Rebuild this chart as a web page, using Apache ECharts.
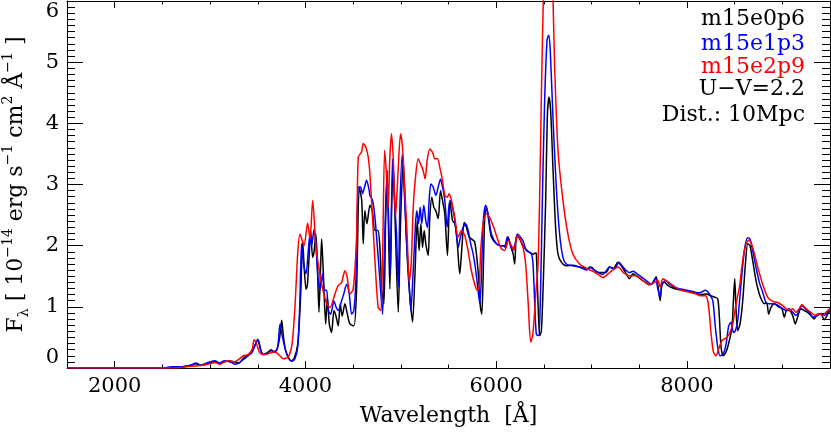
<!DOCTYPE html>
<html>
<head>
<meta charset="utf-8">
<script src="https://cdn.jsdelivr.net/npm/echarts@6/dist/echarts.min.js"></script>
<style>
  html, body { margin: 0; padding: 0; background: #fff; }
  /* chart box must have a size */
  #chart { width: 831px; height: 435px; }
</style>
</head>
<body>
<div id="chart"></div>
<script>
// wavelength [A] and flux [1e-14 erg/s/cm2/A]
var waveBlack = [1500, 2500, 2600, 2700, 2800, 2850, 2900, 2950, 3000, 3050, 3100, 3150, 3200, 3250, 3300, 3350, 3400, 3440, 3480, 3500, 3530, 3560, 3600, 3640, 3665, 3700, 3730, 3751, 3770, 3790, 3820, 3850, 3880, 3920, 3950, 3971, 3985, 4006, 4020, 4040, 4055, 4075, 4090, 4110, 4125, 4142, 4160, 4170, 4185, 4212, 4230, 4250, 4274, 4299, 4320, 4344, 4365, 4385, 4414, 4440, 4466, 4508, 4536, 4564, 4590, 4606, 4623, 4645, 4676, 4700, 4728, 4760, 4781, 4800, 4823, 4840, 4857, 4870, 4885, 4903, 4920, 4941, 4973, 4997, 5025, 5046, 5067, 5095, 5123, 5147, 5172, 5192, 5210, 5228, 5245, 5262, 5287, 5304, 5325, 5346, 5367, 5392, 5416, 5437, 5461, 5489, 5514, 5542, 5566, 5590, 5618, 5643, 5664, 5688, 5716, 5740, 5775, 5810, 5835, 5849, 5863, 5880, 5898, 5922, 5950, 6002, 6044, 6072, 6100, 6124, 6150, 6177, 6194, 6212, 6229, 6280, 6320, 6351, 6390, 6410, 6421, 6438, 6456, 6473, 6491, 6519, 6536, 6553, 6571, 6595, 6623, 6648, 6683, 6735, 6805, 6875, 6962, 6997, 7030, 7067, 7110, 7154, 7189, 7230, 7276, 7320, 7360, 7398, 7433, 7468, 7538, 7607, 7640, 7677, 7698, 7719, 7737, 7764, 7800, 7835, 7887, 7956, 8026, 8096, 8148, 8201, 8253, 8288, 8323, 8340, 8358, 8382, 8410, 8445, 8473, 8487, 8501, 8515, 8532, 8557, 8585, 8613, 8637, 8661, 8689, 8724, 8759, 8787, 8811, 8836, 8857, 8881, 8916, 8961, 8996, 9021, 9045, 9073, 9108, 9136, 9160, 9195, 9230, 9265, 9300, 9335, 9370, 9405, 9440, 9475, 9500];
var fluxBlack = [0, 0, 0.01, 0.02, 0.04, 0.07, 0.04, 0.06, 0.09, 0.11, 0.07, 0.1, 0.12, 0.1, 0.08, 0.16, 0.22, 0.28, 0.4, 0.47, 0.3, 0.22, 0.25, 0.3, 0.27, 0.3, 0.5, 0.78, 0.5, 0.3, 0.17, 0.12, 0.15, 0.4, 1.2, 2.08, 1.7, 1.29, 1.35, 1.87, 2.25, 1.81, 1.9, 2.19, 1.7, 0.91, 1.7, 2.11, 1.65, 0.72, 1.16, 0.72, 0.58, 0.94, 0.85, 0.69, 1.05, 0.85, 1.05, 0.88, 0.72, 0.69, 1.27, 2.96, 2.74, 2.03, 2.57, 2.36, 2.66, 2.58, 2.25, 2.25, 1.97, 1.27, 1.05, 2.36, 3.23, 2.36, 1.29, 2.63, 3.34, 2.36, 0.91, 2.36, 3.39, 2.63, 1.81, 1.16, 0.75, 1.48, 2.41, 1.92, 2.36, 1.97, 2.25, 2.03, 1.84, 2.46, 2.79, 2.63, 2.57, 2.44, 2.9, 2.74, 2.52, 1.84, 2.74, 2.41, 2.36, 2.08, 1.54, 2.03, 2.38, 2.3, 2.14, 2.11, 2.06, 1.59, 0.99, 0.88, 1.48, 2.46, 2.63, 2.41, 2.14, 2.03, 2.0, 2.0, 1.97, 2.14, 2.0, 1.87, 1.7, 2.14, 2.14, 2.0, 1.93, 1.89, 1.86, 1.88, 1.87, 1.1, 0.53, 0.6, 1.26, 2.74, 4.1, 4.43, 4.21, 3.28, 2.3, 1.86, 1.73, 1.67, 1.68, 1.65, 1.62, 1.65, 1.6, 1.56, 1.56, 1.56, 1.65, 1.63, 1.73, 1.65, 1.55, 1.46, 1.54, 1.51, 1.43, 1.36, 1.38, 1.49, 1.32, 1.1, 1.37, 1.4, 1.35, 1.32, 1.29, 1.27, 1.25, 1.22, 1.2, 1.21, 1.18, 1.16, 1.13, 0.83, 0.34, 0.2, 0.26, 0.45, 0.67, 1.1, 1.46, 0.94, 0.61, 0.72, 1.1, 1.7, 2.03, 2.0, 1.76, 1.43, 1.21, 1.1, 1.05, 1.07, 0.88, 0.99, 1.05, 1.0, 0.97, 0.83, 0.94, 0.94, 0.86, 0.72, 0.83, 0.97, 0.94, 0.91, 0.86, 0.8, 0.88, 0.88, 0.79, 0.88, 0.94];

var waveBlue = [1500, 2500, 2600, 2700, 2800, 2850, 2900, 2950, 3000, 3050, 3100, 3150, 3227, 3260, 3300, 3350, 3400, 3440, 3484, 3507, 3530, 3560, 3600, 3640, 3680, 3710, 3733, 3760, 3790, 3820, 3856, 3890, 3920, 3940, 3960, 3985, 4006, 4030, 4048, 4065, 4090, 4110, 4131, 4152, 4180, 4198, 4222, 4240, 4264, 4299, 4320, 4344, 4379, 4400, 4432, 4459, 4484, 4508, 4530, 4554, 4578, 4599, 4620, 4641, 4669, 4676, 4704, 4728, 4763, 4788, 4809, 4826, 4843, 4857, 4875, 4892, 4913, 4938, 4955, 4973, 4990, 5015, 5036, 5060, 5084, 5105, 5130, 5154, 5168, 5186, 5203, 5220, 5241, 5262, 5280, 5297, 5315, 5339, 5367, 5392, 5416, 5437, 5461, 5486, 5507, 5524, 5549, 5577, 5601, 5625, 5653, 5681, 5706, 5733, 5758, 5786, 5810, 5828, 5845, 5863, 5890, 5915, 5950, 6002, 6055, 6090, 6117, 6142, 6170, 6198, 6222, 6250, 6281, 6316, 6368, 6386, 6403, 6421, 6445, 6463, 6484, 6508, 6533, 6550, 6567, 6595, 6630, 6665, 6700, 6735, 6805, 6875, 6945, 6979, 7030, 7119, 7189, 7240, 7286, 7330, 7398, 7433, 7485, 7555, 7625, 7670, 7695, 7719, 7740, 7775, 7817, 7887, 7974, 8061, 8131, 8194, 8236, 8271, 8298, 8323, 8347, 8382, 8410, 8438, 8463, 8487, 8508, 8532, 8567, 8602, 8637, 8661, 8689, 8724, 8759, 8794, 8829, 8864, 8916, 8961, 9003, 9038, 9073, 9108, 9143, 9178, 9206, 9241, 9283, 9324, 9370, 9405, 9440, 9475, 9500];
var fluxBlue = [0, 0, 0.02, 0.02, 0.05, 0.08, 0.05, 0.07, 0.1, 0.12, 0.08, 0.12, 0.09, 0.06, 0.08, 0.14, 0.2, 0.25, 0.42, 0.45, 0.3, 0.22, 0.24, 0.28, 0.26, 0.35, 0.72, 0.5, 0.3, 0.18, 0.11, 0.15, 0.35, 1.0, 2.03, 1.65, 1.54, 1.92, 2.19, 2.0, 2.27, 2.0, 1.48, 1.27, 1.54, 1.27, 1.27, 0.94, 0.88, 1.1, 1.0, 0.94, 1.1, 1.2, 1.37, 1.21, 0.88, 0.94, 1.48, 2.96, 2.96, 2.85, 2.96, 3.07, 2.9, 2.82, 2.74, 2.47, 1.81, 1.27, 0.88, 1.81, 2.74, 3.12, 2.25, 1.54, 3.42, 2.63, 2.19, 1.32, 2.63, 3.5, 2.9, 2.08, 1.48, 0.94, 1.59, 2.36, 2.57, 2.36, 2.63, 2.36, 2.66, 2.41, 2.3, 2.74, 3.01, 2.96, 2.82, 2.96, 3.09, 2.96, 2.74, 2.3, 2.68, 2.74, 2.57, 2.3, 1.97, 2.14, 2.3, 2.36, 2.25, 2.03, 1.87, 1.59, 1.27, 1.05, 1.48, 2.36, 2.66, 2.52, 2.19, 2.03, 2.0, 2.0, 2.14, 2.06, 1.92, 2.03, 2.19, 2.15, 2.08, 1.92, 1.87, 1.7, 1.1, 0.55, 0.53, 1.1, 2.74, 4.37, 5.36, 5.44, 5.19, 4.1, 2.96, 2.19, 1.81, 1.7, 1.67, 1.65, 1.6, 1.65, 1.6, 1.53, 1.65, 1.62, 1.73, 1.65, 1.56, 1.58, 1.53, 1.45, 1.37, 1.47, 1.29, 1.16, 1.37, 1.43, 1.37, 1.31, 1.28, 1.25, 1.23, 1.27, 1.21, 1.1, 0.67, 0.34, 0.2, 0.23, 0.39, 0.69, 0.75, 0.58, 0.61, 0.77, 1.37, 1.92, 2.13, 2.11, 1.92, 1.65, 1.4, 1.24, 1.07, 1.05, 1.05, 1.02, 0.97, 0.94, 0.97, 0.91, 0.86, 0.94, 1.02, 0.97, 0.91, 0.83, 0.86, 0.89, 0.86, 0.91, 0.97];

var waveRed = [1500, 2600, 2700, 2800, 2900, 3000, 3050, 3100, 3150, 3200, 3250, 3300, 3350, 3400, 3440, 3462, 3490, 3520, 3560, 3600, 3640, 3681, 3720, 3770, 3820, 3860, 3890, 3920, 3943, 3985, 4023, 4048, 4076, 4110, 4135, 4170, 4222, 4257, 4309, 4344, 4379, 4414, 4438, 4466, 4501, 4536, 4554, 4588, 4606, 4634, 4658, 4676, 4711, 4739, 4763, 4788, 4809, 4830, 4850, 4868, 4885, 4903, 4920, 4945, 4970, 4997, 5018, 5039, 5067, 5088, 5109, 5130, 5154, 5182, 5206, 5234, 5255, 5276, 5304, 5332, 5357, 5385, 5409, 5437, 5461, 5486, 5507, 5531, 5566, 5601, 5636, 5670, 5705, 5740, 5775, 5800, 5821, 5838, 5863, 5898, 5932, 5974, 6020, 6055, 6090, 6124, 6160, 6184, 6212, 6229, 6281, 6309, 6334, 6362, 6385, 6420, 6438, 6455, 6473, 6498, 6520, 6550, 6575, 6595, 6613, 6648, 6700, 6752, 6805, 6875, 6945, 7014, 7067, 7119, 7189, 7276, 7340, 7398, 7468, 7538, 7607, 7660, 7695, 7719, 7747, 7782, 7852, 7922, 8026, 8096, 8148, 8194, 8218, 8236, 8253, 8278, 8305, 8333, 8368, 8410, 8445, 8480, 8515, 8550, 8585, 8620, 8647, 8672, 8707, 8742, 8794, 8846, 8899, 8951, 9003, 9038, 9073, 9108, 9143, 9178, 9206, 9248, 9300, 9345, 9387, 9422, 9457, 9500];
var fluxRed = [0, 0, 0.01, 0.03, 0.04, 0.07, 0.09, 0.06, 0.1, 0.12, 0.1, 0.14, 0.2, 0.22, 0.3, 0.46, 0.38, 0.25, 0.22, 0.23, 0.25, 0.26, 0.22, 0.15, 0.18, 0.4, 1.0, 1.9, 2.19, 2.0, 2.37, 2.11, 2.74, 1.97, 1.7, 1.37, 1.05, 0.99, 1.21, 1.35, 1.4, 1.59, 1.48, 1.21, 1.29, 2.14, 3.45, 3.53, 3.67, 3.61, 3.45, 3.17, 2.25, 1.48, 0.99, 0.94, 1.81, 3.56, 3.17, 2.63, 3.45, 3.83, 3.45, 2.47, 3.17, 3.83, 3.61, 3.01, 2.14, 1.4, 1.7, 2.63, 3.12, 3.42, 3.34, 3.23, 3.09, 3.39, 3.58, 3.53, 3.42, 3.42, 3.28, 3.07, 2.82, 2.79, 2.85, 2.74, 2.46, 2.14, 2.25, 2.17, 1.92, 1.59, 1.37, 1.27, 1.32, 1.92, 2.36, 2.52, 2.46, 2.3, 2.08, 1.95, 1.92, 2.08, 2.0, 1.92, 2.11, 2.17, 1.97, 1.7, 1.1, 0.42, 0.56, 1.32, 1.65, 2.74, 4.37, 6.3, 7.2, 7.5, 7.0, 6.1, 4.92, 3.56, 2.74, 2.19, 1.86, 1.7, 1.63, 1.58, 1.53, 1.48, 1.56, 1.65, 1.55, 1.51, 1.51, 1.43, 1.36, 1.4, 1.43, 1.32, 1.46, 1.43, 1.35, 1.28, 1.24, 1.21, 1.18, 1.18, 1.1, 0.88, 0.56, 0.26, 0.2, 0.31, 0.45, 0.49, 0.56, 0.72, 1.05, 1.32, 1.76, 2.03, 2.09, 2.05, 1.87, 1.65, 1.37, 1.16, 1.09, 1.07, 1.02, 0.97, 0.94, 0.97, 0.91, 0.97, 1.04, 0.97, 0.91, 0.86, 0.89, 0.86, 0.91, 0.97];

var xMajorTicks = [2000, 4000, 6000, 8000];
var legendLines = ['m15e0p6', 'm15e1p3', 'm15e2p9', 'U\u2212V=2.2', 'Dist.: 10Mpc'];
var legendColors = ['#000000', '#0000ff', '#ff0000', '#000000', '#000000'];

function pairs(w, f) {
  var out = [];
  for (var i = 0; i < w.length; i++) out.push([w[i], f[i]]);
  return out;
}

var serif = '"DejaVu Serif", serif';
var chart = echarts.init(document.getElementById('chart'), null, { renderer: 'canvas' });

function xAxisDef(pos, major, labels) {
  return {
    type: 'value', position: pos, min: 1500, max: 9500, interval: 500,
    axisLine: { show: !major, onZero: false, lineStyle: { color: '#000', width: 1 } },
    axisTick: major
      ? { show: true, inside: true, length: 7, customValues: xMajorTicks, lineStyle: { color: '#000' } }
      : { show: true, inside: true, length: 3.5, lineStyle: { color: '#000' } },
    axisLabel: labels
      ? { show: true, color: '#000', fontSize: 21, fontFamily: serif, margin: 8,
          formatter: function (v) { return v % 2000 === 0 ? String(v) : ''; } }
      : { show: false },
    splitLine: { show: false },
    name: labels ? 'Wavelength  [\u00c5]' : '',
    nameLocation: 'middle', nameGap: 37,
    nameTextStyle: { color: '#000', fontSize: 22, fontFamily: serif }
  };
}

function yAxisDef(pos, labels) {
  return {
    type: 'value', position: pos, min: 0, max: 6, interval: 1,
    axisLine: { show: true, onZero: false, lineStyle: { color: '#000', width: 1 } },
    axisTick: { show: true, inside: true, length: 16, lineStyle: { color: '#000' } },
    minorTick: { show: true, splitNumber: 10, length: 8, lineStyle: { color: '#000' } },
    axisLabel: labels
      ? { show: true, color: '#000', fontSize: 21, fontFamily: serif, margin: 8,
          verticalAlignMinLabel: 'bottom', verticalAlignMaxLabel: 'top' }
      : { show: false },
    splitLine: { show: false },
    name: labels ? '{n|F}{sub|\u03bb}{n| [ 10}{sup|\u221214}{n| erg s}{sup|\u22121}{n| cm}{sup|2}{n| \u00c5}{sup|\u22121}{n| ]}' : '',
    nameLocation: 'middle', nameGap: 36, nameRotate: 90,
    nameTextStyle: {
      color: '#000', fontSize: 22, fontFamily: serif, lineHeight: 30,
      rich: {
        n: { fontSize: 22, fontFamily: serif, color: '#000', lineHeight: 30 },
        sup: { fontSize: 14, fontFamily: serif, color: '#000', verticalAlign: 'top', lineHeight: 30 },
        sub: { fontSize: 14, fontFamily: serif, color: '#000', verticalAlign: 'bottom', lineHeight: 30 }
      }
    }
  };
}

function lineSeries(name, w, f, color) {
  return {
    name: name, type: 'line', xAxisIndex: 0, yAxisIndex: 0,
    data: pairs(w, f), showSymbol: false, smooth: 0.25, clip: true,
    lineStyle: { color: color, width: 1.5 }, itemStyle: { color: color },
    animation: false
  };
}

var graphics = [];
var centers = [19, 44, 67, 89, 115];
for (var i = 0; i < legendLines.length; i++) {
  graphics.push({
    type: 'text', x: 805, y: centers[i],
    style: { text: legendLines[i], fill: legendColors[i], font: '22px ' + serif,
             textAlign: 'right', textVerticalAlign: 'middle', verticalAlign: 'middle' }
  });
}

chart.setOption({
  animation: false,
  backgroundColor: '#fff',
  grid: { left: 67, right: 1, top: 1, bottom: 67, containLabel: false, outerBoundsMode: 'none' },
  xAxis: [
    xAxisDef('bottom', false, true),
    xAxisDef('bottom', true, false),
    xAxisDef('top', false, false),
    xAxisDef('top', true, false)
  ],
  yAxis: [yAxisDef('left', true), yAxisDef('right', false)],
  series: [
    lineSeries('m15e0p6', waveBlack, fluxBlack, '#000000'),
    lineSeries('m15e1p3', waveBlue, fluxBlue, '#0000ff'),
    lineSeries('m15e2p9', waveRed, fluxRed, '#ff0000')
  ],
  graphic: graphics
});
</script>
</body>
</html>
